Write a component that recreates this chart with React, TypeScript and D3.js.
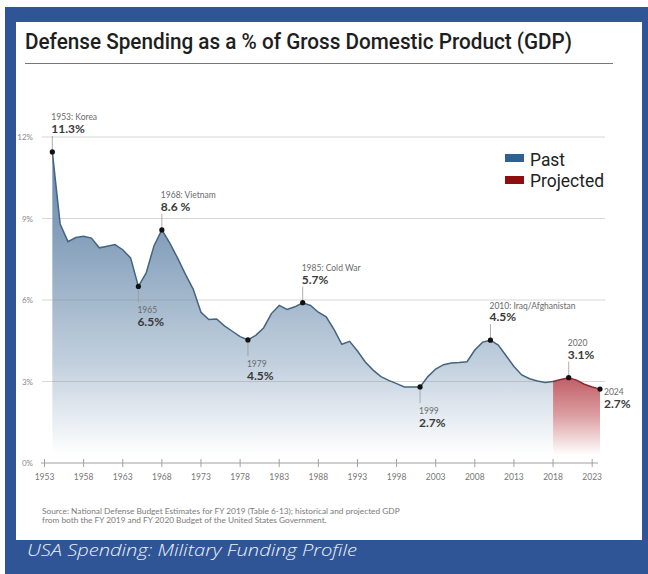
import React from "react";
import * as d3 from "d3";

const pastStartYear = 1954;
const pastValues = [
  11.45, 8.8, 8.15, 8.3, 8.35, 8.28, 7.92, 7.98, 8.04, 7.85, 7.55, 6.5, 7.0, 8.0, 8.58, 8.1,
  7.55, 6.95, 6.4, 5.55, 5.28, 5.3, 5.05, 4.85, 4.65, 4.53, 4.7, 4.97, 5.5, 5.8, 5.65, 5.75,
  5.9, 5.8, 5.55, 5.38, 4.92, 4.37, 4.48, 4.12, 3.72, 3.42, 3.18, 3.04, 2.92, 2.8, 2.8, 2.8,
  3.18, 3.46, 3.62, 3.68, 3.7, 3.73, 4.16, 4.45, 4.52, 4.34, 3.95, 3.55, 3.24, 3.1, 3.02,
  2.96, 3.0,
];
const projStartYear = 2018;
const projValues = [3.0, 3.07, 3.14, 3.05, 2.9, 2.8, 2.72];

const yTicks = [0, 3, 6, 9, 12];
const xTicks = [1953, 1958, 1963, 1968, 1973, 1978, 1983, 1988, 1993, 1998, 2003, 2008, 2013, 2018, 2023];

const annYears = [1954, 1965, 1968, 1979, 1986, 2001, 2010, 2020, 2024];
const annLabels = ["1953: Korea", "1965", "1968: Vietnam", "1979", "1985: Cold War", "1999", "2010: Iraq/Afghanistan", "2020", "2024"];
const annValues = ["11.3%", "6.5%", "8.6 %", "4.5%", "5.7%", "2.7%", "4.5%", "3.1%", "2.7%"];
const annPos = ["above", "below", "above", "below", "above", "below", "above", "above", "right"];

const legendLabels = ["Past", "Projected"];
const legendColors = ["#2d6193", "#8e0e10"];

const title = "Defense Spending as a % of Gross Domestic Product (GDP)";
const sourceLines = [
  "Source: National Defense Budget Estimates for FY 2019 (Table 6-13); historical and projected GDP",
  "from both the FY 2019 and FY 2020 Budget of the United States Government.",
];
const caption = "USA Spending: Military Funding Profile";

export default function App() {
  const past = pastValues.map((v, i) => ({ year: pastStartYear + i, value: v }));
  const proj = projValues.map((v, i) => ({ year: projStartYear + i, value: v }));
  const all = [...past, ...proj.slice(1)];

  const x = d3.scaleLinear().domain([1953, 2024]).range([44.5, 600]);
  const y = d3.scaleLinear().domain([0, 12]).range([463, 137]);

  const area = d3
    .area<{ year: number; value: number }>()
    .x((d) => x(d.year))
    .y0(y(0))
    .y1((d) => y(d.value));
  const line = d3
    .line<{ year: number; value: number }>()
    .x((d) => x(d.year))
    .y((d) => y(d.value));

  const font = "Lato, 'Open Sans', sans-serif";

  return (
    <svg
      width={648}
      height={574}
      style={{ position: "absolute", left: 0, top: 0, display: "block" }}
      xmlns="http://www.w3.org/2000/svg"
    >
      <defs>
        <linearGradient id="pastGrad" gradientUnits="userSpaceOnUse" x1="0" y1={y(11.5)} x2="0" y2={y(0) - 8}>
          <stop offset="0" stopColor="#6787ab" />
          <stop offset="0.3" stopColor="#88a2bd" />
          <stop offset="0.7" stopColor="#c2d0de" />
          <stop offset="1" stopColor="#ffffff" />
        </linearGradient>
        <linearGradient id="projGrad" gradientUnits="userSpaceOnUse" x1="0" y1={y(3.2)} x2="0" y2={y(0) - 8}>
          <stop offset="0" stopColor="#bf5c63" />
          <stop offset="0.5" stopColor="#dc9ea2" />
          <stop offset="1" stopColor="#ffffff" />
        </linearGradient>
      </defs>

      {/* frame */}
      <rect x={5} y={7} width={643} height={567} fill="#2f5597" />
      <rect x={16} y={22} width={626} height={518} fill="#ffffff" />

      {/* title */}
      <text
        x={25}
        y={49}
        fontFamily="Roboto, 'Open Sans', sans-serif"
        fontSize={22.5}
        fontWeight={500}
        fill="#1e1e1e"
        textLength={547}
        lengthAdjust="spacingAndGlyphs"
      >
        {title}
      </text>
      <line x1={25} x2={613} y1={63.5} y2={63.5} stroke="#777" strokeWidth={1.2} />

      {/* areas */}
      <path d={area(past) || ""} fill="url(#pastGrad)" />
      <path d={area(proj) || ""} fill="url(#projGrad)" />

      {/* gridlines */}
      {yTicks.slice(1).map((t) => (
        <line key={t} x1={42} x2={605} y1={y(t)} y2={y(t)} stroke="#8a8a8a" strokeOpacity={0.33} strokeWidth={1.2} />
      ))}
      {yTicks.map((t) => (
        <text key={t} x={33} y={y(t) + 3} textAnchor="end" fontFamily={font} fontSize={8} fill="#8a8a8a">
          {t}%
        </text>
      ))}

      {/* lines */}
      <path d={line(past) || ""} fill="none" stroke="#45647f" strokeWidth={1.5} />
      <path d={line(proj) || ""} fill="none" stroke="#8a2a30" strokeWidth={1.5} />

      {/* x axis */}
      <line x1={41} x2={598} y1={y(0)} y2={y(0)} stroke="#a0a0a0" strokeWidth={1} />
      {xTicks.map((t) => (
        <g key={t}>
          <line x1={x(t)} x2={x(t)} y1={y(0) - 4} y2={y(0) + 4} stroke="#a0a0a0" strokeWidth={1} />
          <text x={x(t)} y={480} textAnchor="middle" fontFamily={font} fontSize={8.5} fill="#777">
            {t}
          </text>
        </g>
      ))}

      {/* annotations */}
      {annYears.map((yr, i) => {
        const d = all.find((p) => p.year === yr)!;
        const px = x(d.year);
        const py = y(d.value);
        const pos = annPos[i];
        let lead = null;
        let sy = 0;
        let vy = 0;
        let tx = px - 1;
        if (pos === "above") {
          lead = <line x1={px} x2={px} y1={py - 16} y2={py} stroke="#999" strokeWidth={0.8} />;
          vy = py - 19;
          sy = vy - 12.5;
        } else if (pos === "below") {
          lead = <line x1={px} x2={px} y1={py} y2={py + 16} stroke="#999" strokeWidth={0.8} />;
          sy = py + 27;
          vy = py + 40;
        } else {
          tx = px + 4;
          sy = py + 6;
          vy = py + 18.5;
        }
        return (
          <g key={yr}>
            {lead}
            <circle cx={px} cy={py} r={2.6} fill="#111" />
            <text x={tx} y={sy} fontFamily={font} fontSize={8.5} fill="#6a6a6a">
              {annLabels[i]}
            </text>
            <text x={tx} y={vy} fontFamily={font} fontSize={12} fontWeight={700} fill="#3a3a3a">
              {annValues[i]}
            </text>
          </g>
        );
      })}

      {/* legend */}
      {legendLabels.map((l, i) => (
        <g key={l}>
          <rect x={505} y={154 + i * 22} width={19} height={8} fill={legendColors[i]} />
          <text
            x={530}
            y={166 + i * 21}
            fontFamily="Roboto, 'Open Sans', sans-serif"
            fontSize={18}
            fill="#222"
            textLength={i === 0 ? 35 : 74}
            lengthAdjust="spacingAndGlyphs"
          >
            {l}
          </text>
        </g>
      ))}

      {/* source */}
      {sourceLines.map((s, i) => (
        <text key={i} x={42} y={514 + i * 9} fontFamily={font} fontSize={8.3} fill="#7a7a7a">
          {s}
        </text>
      ))}

      {/* caption */}
      <text
        x={27}
        y={556}
        fontFamily="'Open Sans', Roboto, sans-serif"
        fontStyle="italic"
        fontWeight={300}
        fontSize={16}
        fill="#eef2f8"
        textLength={330}
        lengthAdjust="spacingAndGlyphs"
      >
        {caption}
      </text>
    </svg>
  );
}
